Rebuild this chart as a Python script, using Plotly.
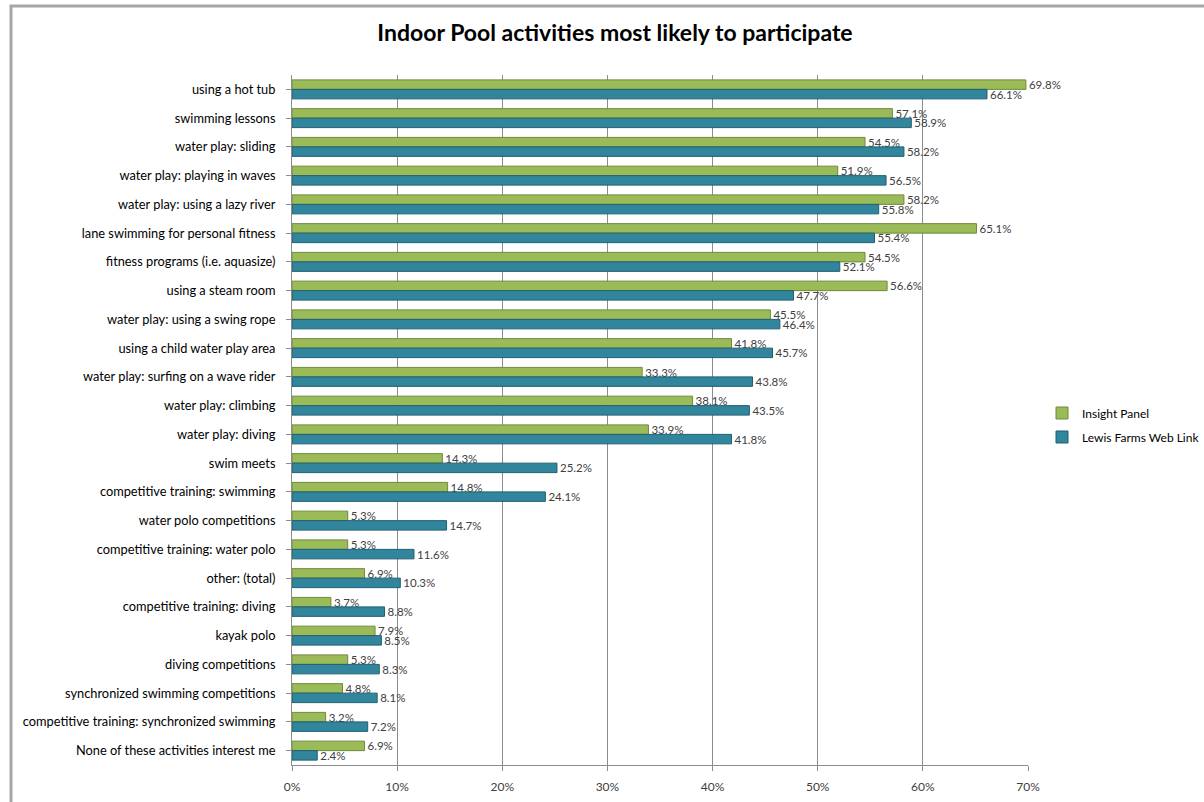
import plotly.graph_objects as go

categories = [
    "using a hot tub", "swimming lessons", "water play: sliding",
    "water play: playing in waves", "water play: using a lazy river",
    "lane swimming for personal fitness", "fitness programs (i.e. aquasize)",
    "using a steam room", "water play: using a swing rope",
    "using a child water play area", "water play: surfing on a wave rider",
    "water play: climbing", "water play: diving", "swim meets",
    "competitive training: swimming", "water polo competitions",
    "competitive training: water polo", "other: (total)",
    "competitive training: diving", "kayak polo", "diving competitions",
    "synchronized swimming competitions",
    "competitive training: synchronized swimming",
    "None of these activities interest me",
]
insight_panel = [69.8, 57.1, 54.5, 51.9, 58.2, 65.1, 54.5, 56.6, 45.5, 41.8,
                 33.3, 38.1, 33.9, 14.3, 14.8, 5.3, 5.3, 6.9, 3.7, 7.9, 5.3,
                 4.8, 3.2, 6.9]
lewis_farms = [66.1, 58.9, 58.2, 56.5, 55.8, 55.4, 52.1, 47.7, 46.4, 45.7,
               43.8, 43.5, 41.8, 25.2, 24.1, 14.7, 11.6, 10.3, 8.8, 8.5, 8.3,
               8.1, 7.2, 2.4]
x_ticks = [0, 10, 20, 30, 40, 50, 60, 70]
x_tick_labels = ["0%", "10%", "20%", "30%", "40%", "50%", "60%", "70%"]

FONT = "Lato, 'Open Sans', sans-serif"
GREEN = "#9BBB59"
BLUE = "#31859C"

W, H = 1204, 802
L, R, T, B = 292, 176, 75, 37
PW, PH = W - L - R, H - T - B

fig = go.Figure()
fig.add_trace(go.Bar(
    y=categories, x=insight_panel, orientation="h", name="Insight Panel",
    legendgroup="a",
    marker=dict(color=GREEN, line=dict(color="#6F8A3A", width=1)),
    text=[f"{v:.1f}%" for v in insight_panel], textposition="outside",
    constraintext="none",
    textfont=dict(family=FONT, size=11.5, color="#404040"), cliponaxis=False,
))
fig.add_trace(go.Bar(
    y=categories, x=lewis_farms, orientation="h", name="Lewis Farms Web Link",
    legendgroup="b",
    marker=dict(color=BLUE, line=dict(color="#1F5F70", width=1)),
    text=[f"{v:.1f}%" for v in lewis_farms], textposition="outside",
    constraintext="none",
    textfont=dict(family=FONT, size=11.5, color="#404040"), cliponaxis=False,
))

fig.update_layout(
    width=W, height=H,
    paper_bgcolor="white", plot_bgcolor="white",
    barmode="group", bargap=0.34, bargroupgap=0.0,
    margin=dict(l=L, r=R, t=T, b=B, autoexpand=False),
    title=dict(text="<b>Indoor Pool activities most likely to participate</b>",
               x=615 / W, xref="container", xanchor="center", y=1 - 33 / H,
               yref="container", yanchor="middle",
               font=dict(family=FONT, size=23, color="#000000")),
    font=dict(family=FONT, size=12, color="#000000"),
    legend=dict(x=1042 / W, y=1 - 425 / H, xref="container", yref="container",
                xanchor="left", yanchor="middle",
                font=dict(family=FONT, size=12, color="#000000"),
                itemwidth=30, traceorder="grouped", tracegroupgap=5),
    shapes=[dict(type="rect", xref="paper", yref="paper",
                 x0=(11 - L) / PW, x1=(W + 20 - L) / PW,
                 y0=-(B + 20) / PH, y1=1 + (T - 6) / PH,
                 line=dict(color="#A6A6A6", width=3), fillcolor="rgba(0,0,0,0)",
                 layer="below")],
)
fig.update_xaxes(
    range=[0, 70], tickvals=x_ticks, ticktext=x_tick_labels,
    showgrid=True, gridcolor="#8C8C8C", gridwidth=1,
    showline=True, linecolor="#8C8C8C", linewidth=1,
    ticks="outside", tickcolor="#8C8C8C", ticklen=5, ticklabelstandoff=6,
    automargin=False,
    tickfont=dict(family=FONT, size=12, color="#404040"), zeroline=False,
)
fig.update_yaxes(
    autorange="reversed", showline=True, linecolor="#8C8C8C", linewidth=1,
    ticks="outside", tickcolor="#8C8C8C", ticklen=5, ticklabelstandoff=8,
    automargin=False,
    tickfont=dict(family=FONT, size=12.8, color="#000000"), showgrid=False,
)

fig.write_html("out.html", config={"displayModeBar": False},
               post_script="document.body.style.margin='0';")
